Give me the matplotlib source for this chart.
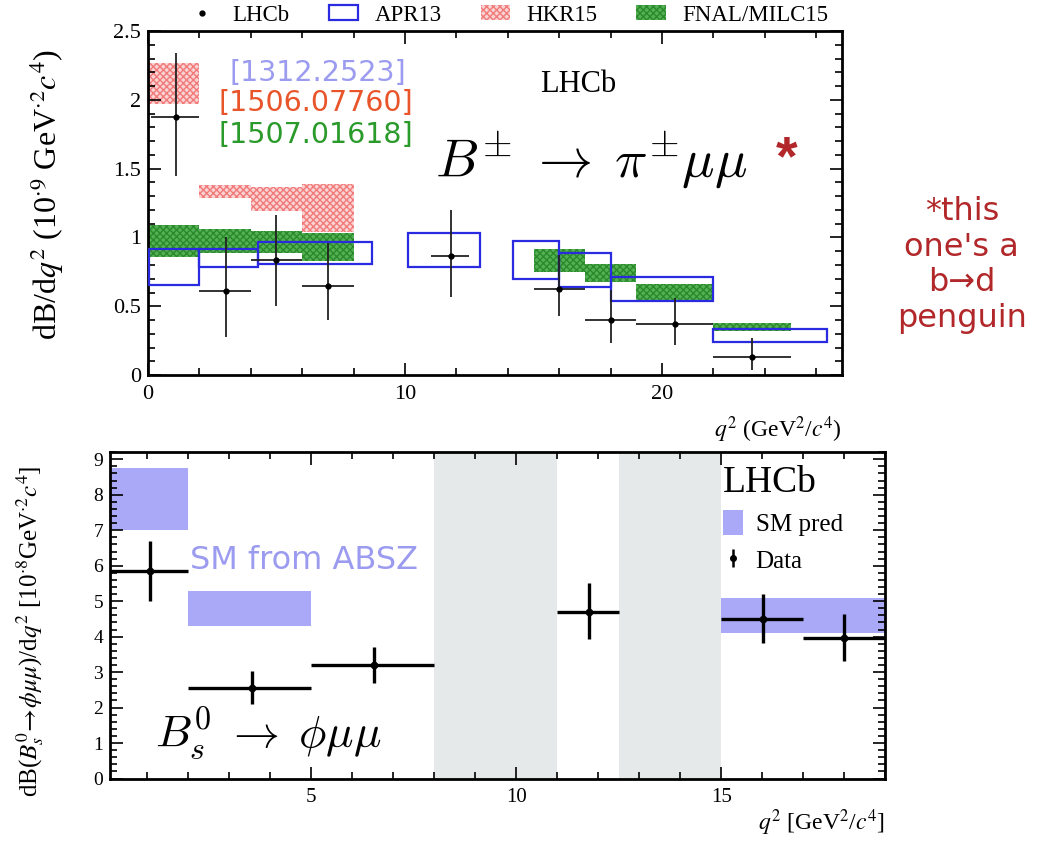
import matplotlib
matplotlib.use("Agg")
import matplotlib.pyplot as plt
from matplotlib.patches import Rectangle, Patch
from matplotlib.lines import Line2D
from matplotlib.ticker import MultipleLocator

plt.rcParams["font.family"] = ["Liberation Serif", "DejaVu Serif"]
plt.rcParams["mathtext.fontset"] = "stix"
plt.rcParams["hatch.linewidth"] = 1.0

# ---------------- B± -> π± μμ : LHCb measurement ----------------
pi_lo = [0.1, 2, 4, 6, 11, 15, 17, 19, 22]
pi_hi = [2, 4, 6, 8, 12.5, 17, 19, 22, 25]
pi_x = [1.1, 3.05, 5.0, 7.0, 11.8, 16.0, 18.0, 20.5, 23.5]
pi_val = [1.875, 0.61, 0.835, 0.647, 0.865, 0.625, 0.40, 0.37, 0.133]
pi_up = [0.465, 0.39, 0.325, 0.31, 0.335, 0.245, 0.22, 0.19, 0.137]
pi_dn = [0.425, 0.33, 0.335, 0.25, 0.295, 0.195, 0.17, 0.15, 0.093]

# APR13 predictions (open boxes)
apr_lo = [0.05, 2, 4.3, 10.1, 14.2, 16, 18, 22]
apr_hi = [2, 4.3, 8.7, 12.9, 16, 18, 22, 26.4]
apr_min = [0.655, 0.785, 0.81, 0.785, 0.70, 0.64, 0.54, 0.24]
apr_max = [0.915, 0.92, 0.97, 1.035, 0.975, 0.89, 0.71, 0.334]

# HKR15 predictions
hkr_lo = [0.05, 2, 4, 6]
hkr_hi = [2, 4, 6, 8]
hkr_min = [1.97, 1.29, 1.19, 1.04]
hkr_max = [2.27, 1.38, 1.37, 1.39]

# FNAL/MILC15 predictions
fnal_lo = [0.05, 2, 4, 6, 15, 17, 19, 22]
fnal_hi = [2, 4, 6, 8, 17, 19, 22, 25]
fnal_min = [0.86, 0.89, 0.89, 0.83, 0.75, 0.68, 0.545, 0.32]
fnal_max = [1.09, 1.06, 1.05, 1.03, 0.915, 0.81, 0.66, 0.378]

# ---------------- Bs -> φ μμ ----------------
phi_lo = [0.1, 2, 5, 11, 15, 17]
phi_hi = [2, 5, 8, 12.5, 17, 19]
phi_x = [1.08, 3.55, 6.54, 11.77, 16.03, 18.0]
phi_val = [5.85, 2.56, 3.19, 4.70, 4.49, 3.95]
phi_up = [0.84, 0.47, 0.52, 0.80, 0.70, 0.68]
phi_dn = [0.85, 0.45, 0.51, 0.78, 0.67, 0.64]

sm_lo = [0.1, 2, 15]
sm_hi = [2, 5, 19]
sm_min = [7.0, 4.3, 4.1]
sm_max = [8.75, 5.29, 5.08]

veto_lo = [8, 12.5]
veto_hi = [11, 15]

BLUE = "#2a2ae0"
RED_FC = "#fbd3d3"
RED_HATCH = "#f07a7a"
GREEN_FC = "#55b055"
GREEN_HATCH = "#2a8a2a"
SM_BLUE = "#a9a9f7"
VETO = "#e6e9e9"
NOTE_RED = "#b2282a"
SANS = "DejaVu Sans"

fig = plt.figure(figsize=(10.42, 8.41), dpi=100)


def style_axes(ax, xmaj, xmin, ymaj, ymin, fs_x, fs_y):
    ax.xaxis.set_major_locator(MultipleLocator(xmaj))
    ax.xaxis.set_minor_locator(MultipleLocator(xmin))
    ax.yaxis.set_major_locator(MultipleLocator(ymaj))
    ax.yaxis.set_minor_locator(MultipleLocator(ymin))
    ax.tick_params(which="both", direction="in", top=True, right=True, width=1.2)
    ax.tick_params(which="major", length=9)
    ax.tick_params(which="minor", length=5)
    ax.tick_params(axis="x", labelsize=fs_x, pad=7)
    ax.tick_params(axis="y", labelsize=fs_y, pad=5)
    for s in ax.spines.values():
        s.set_linewidth(2.0)


# ================= top panel =================
ax1 = fig.add_axes([0.142, 0.554, 0.666, 0.409])
ax1.set_xlim(0, 27)
ax1.set_ylim(0, 2.5)

for lo, hi, a, b in zip(hkr_lo, hkr_hi, hkr_min, hkr_max):
    ax1.add_patch(Rectangle((lo, a), hi - lo, b - a, facecolor=RED_FC,
                            edgecolor=RED_HATCH, hatch="xxxxx", lw=0, zorder=1))
for lo, hi, a, b in zip(fnal_lo, fnal_hi, fnal_min, fnal_max):
    ax1.add_patch(Rectangle((lo, a), hi - lo, b - a, facecolor=GREEN_FC,
                            edgecolor=GREEN_HATCH, hatch="xxxxx", lw=0, zorder=2))
for lo, hi, a, b in zip(apr_lo, apr_hi, apr_min, apr_max):
    ax1.add_patch(Rectangle((lo, a), hi - lo, b - a, facecolor="none",
                            edgecolor=BLUE, lw=1.6, zorder=3))

pi_xerr = [[x - lo for x, lo in zip(pi_x, pi_lo)], [hi - x for x, hi in zip(pi_x, pi_hi)]]
ax1.errorbar(pi_x, pi_val, xerr=pi_xerr, yerr=[pi_dn, pi_up], fmt="o", ms=3.5,
             color="black", ecolor="#222222", elinewidth=1.3, capsize=0, zorder=4)

style_axes(ax1, 10, 2, 0.5, 0.1, 16, 16)
ax1.set_xticks([0, 10, 20])
ax1.set_xticklabels(["0", "10", "20"])
ax1.set_yticks([0, 0.5, 1, 1.5, 2, 2.5])
ax1.set_yticklabels(["0", "0.5", "1", "1.5", "2", "2.5"])

ax1.set_ylabel(r"dB/d$q^2$ (10$^{\cdot 9}$ GeV$^{\cdot 2}$$c^{4}$)", fontsize=23)
ax1.yaxis.set_label_coords(-0.118, 0.525)
ax1.text(1.0, -0.115, r"$q^2$ (GeV$^2$/$c^4$)", transform=ax1.transAxes,
         ha="right", va="top", fontsize=17)

ax1.text(0.118, 0.878, "[1312.2523]", transform=ax1.transAxes, color="#9b9bf0",
         fontsize=20.5, family=SANS, va="center")
ax1.text(0.101, 0.791, "[1506.07760]", transform=ax1.transAxes, color="#e8552a",
         fontsize=20.5, family=SANS, va="center")
ax1.text(0.101, 0.698, "[1507.01618]", transform=ax1.transAxes, color="#2a9a2a",
         fontsize=20.5, family=SANS, va="center")
ax1.text(0.565, 0.845, "LHCb", transform=ax1.transAxes, fontsize=22, va="center")
ax1.text(0.414, 0.625, r"$B^{\pm}\;\rightarrow\;\pi^{\pm}\mu\mu$", transform=ax1.transAxes,
         fontsize=39, va="center", math_fontfamily="cm")
ax1.text(0.905, 0.625, "*", transform=ax1.transAxes, color=NOTE_RED,
         fontsize=40, family="Liberation Sans", va="center", fontweight="bold")

leg_handles = [
    Line2D([], [], marker="o", ms=3.5, color="black", ls="none"),
    Patch(facecolor="none", edgecolor=BLUE, lw=1.6),
    Patch(facecolor=RED_FC, edgecolor=RED_HATCH, hatch="xxxxx", lw=0),
    Patch(facecolor=GREEN_FC, edgecolor=GREEN_HATCH, hatch="xxxxx", lw=0),
]
fig.legend(leg_handles, ["LHCb", "APR13", "HKR15", "FNAL/MILC15"], loc="center",
           bbox_to_anchor=(0.487, 0.982), ncol=4, frameon=False, fontsize=16.5,
           handlelength=1.3, handleheight=0.6, columnspacing=1.7, handletextpad=0.7,
           borderaxespad=0)

fig.text(0.923, 0.685, "*this\none's a\nb\u2192d\npenguin", color=NOTE_RED,
         fontsize=23, family=SANS, ha="center", va="center", linespacing=1.2)

# ================= bottom panel =================
ax2 = fig.add_axes([0.1056, 0.0743, 0.744, 0.388])
ax2.set_xlim(0.1, 19)
ax2.set_ylim(0, 9.2)

for lo, hi in zip(veto_lo, veto_hi):
    ax2.axvspan(lo, hi, color=VETO, lw=0, zorder=0)
for lo, hi, a, b in zip(sm_lo, sm_hi, sm_min, sm_max):
    ax2.add_patch(Rectangle((lo, a), hi - lo, b - a, facecolor=SM_BLUE,
                            edgecolor="none", zorder=1))

phi_xerr = [[x - lo for x, lo in zip(phi_x, phi_lo)], [hi - x for x, hi in zip(phi_x, phi_hi)]]
ax2.errorbar(phi_x, phi_val, xerr=phi_xerr, yerr=[phi_dn, phi_up], fmt="o", ms=4.5,
             color="black", elinewidth=2.4, capsize=0, zorder=3)

style_axes(ax2, 5, 1, 1, 0.2, 15, 14)
ax2.set_xticks([5, 10, 15])
ax2.set_ylabel(r"dB($B_s^0\!\rightarrow\!\phi\mu\mu$)/d$q^2$ [10$^{\cdot 8}$GeV$^{\cdot 2}$$c^4$]",
               fontsize=18)
ax2.yaxis.set_label_coords(-0.082, 0.45)
ax2.text(1.0, -0.09, r"$q^2$ [GeV$^2$/$c^4$]", transform=ax2.transAxes,
         ha="right", va="top", fontsize=17)

ax2.text(0.103, 0.669, "SM from ABSZ", transform=ax2.transAxes, color="#9b9bf0",
         fontsize=23, family=SANS, va="center")
ax2.text(0.058, 0.135, r"$B_s^0\;\rightarrow\;\phi\mu\mu$", transform=ax2.transAxes,
         fontsize=33, va="center", math_fontfamily="cm")
ax2.text(0.79, 0.905, "LHCb", transform=ax2.transAxes, fontsize=27, va="center")
ax2.legend([Patch(facecolor=SM_BLUE, edgecolor="none"),
            (Line2D([], [], marker="|", ms=13, mew=1.8, color="black", ls="none"),
             Line2D([], [], marker="o", ms=4, color="black", ls="none"))],
           ["SM pred", "Data"], loc="upper left", bbox_to_anchor=(0.778, 0.855),
           frameon=False, fontsize=18, handlelength=0.8, handleheight=1.2,
           handletextpad=0.5, labelspacing=0.45, borderaxespad=0)

fig.savefig("out.png", dpi=100)
